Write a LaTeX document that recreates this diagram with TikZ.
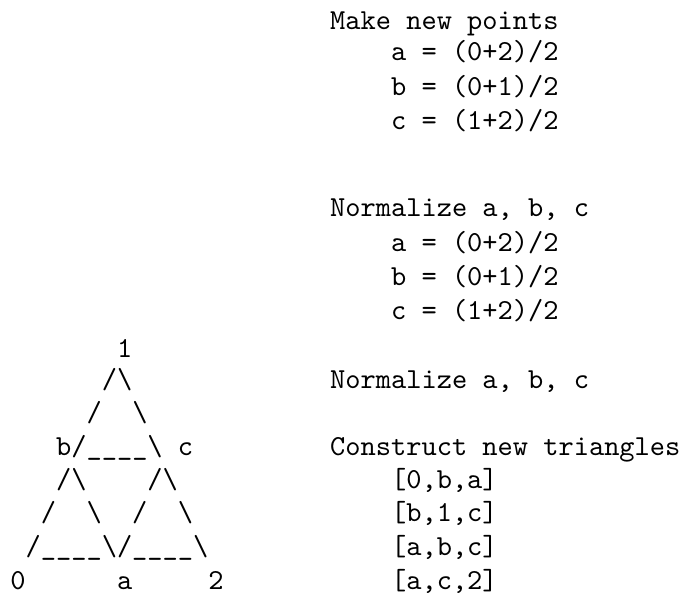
\documentclass[tikz,border=0pt]{standalone}
\begin{document}
\def\bs{\textbackslash}
\def\us{\_}
\newcommand{\cw}{5.25}
\begin{tikzpicture}[x=1pt,y=1pt,
  txt/.style={anchor=base west, inner sep=0pt, outer sep=0pt, font=\ttfamily}]
\useasboundingbox (0,0) rectangle (235.5,-211.4);
% column c at x = 3.6 + 5.25*c ; baselines measured per row
% left: triangle
\node[txt] (t9)  at ({3.6+\cw*7},-123.1) {1};
\node[txt] (t10) at ({3.6+\cw*6},-134.1) {/\bs};
\node[txt] (t11) at ({3.6+\cw*5},-145.5) {/\ \ \bs};
\node[txt] (t12) at ({3.6+\cw*3},-156.9) {b/\us\us\us\us\bs\ c};
\node[txt] (t13) at ({3.6+\cw*3},-168.3) {/\bs\ \ \ \ /\bs};
\node[txt] (t14) at ({3.6+\cw*2},-179.7) {/\ \ \bs\ \ /\ \ \bs};
\node[txt] (t15) at ({3.6+\cw*1},-191.4) {/\us\us\us\us\bs/\us\us\us\us\bs};
\node[txt] (t16) at ({3.6+\cw*0},-203.1) {0\ \ \ \ \ \ a\ \ \ \ \ 2};
% right: steps
\node[txt] (r0)  at ({3.6+\cw*21},-10.0)  {Make new points};
\node[txt] (r1)  at ({3.6+\cw*25},-21.0)  {a = (0+2)/2};
\node[txt] (r2)  at ({3.6+\cw*25},-32.8)  {b = (0+1)/2};
\node[txt] (r3)  at ({3.6+\cw*25},-44.8)  {c = (1+2)/2};
\node[txt] (r5)  at ({3.6+\cw*21},-74.5)  {Normalize a, b, c};
\node[txt] (r6)  at ({3.6+\cw*25},-86.6)  {a = (0+2)/2};
\node[txt] (r7)  at ({3.6+\cw*25},-98.6)  {b = (0+1)/2};
\node[txt] (r8)  at ({3.6+\cw*25},-110.3) {c = (1+2)/2};
\node[txt] (r10) at ({3.6+\cw*21},-134.1) {Normalize a, b, c};
\node[txt] (r12) at ({3.6+\cw*21},-156.9) {Construct new triangles};
\node[txt] (r13) at ({3.6+\cw*25},-168.3) {[0,b,a]};
\node[txt] (r14) at ({3.6+\cw*25},-179.7) {[b,1,c]};
\node[txt] (r15) at ({3.6+\cw*25},-191.4) {[a,b,c]};
\node[txt] (r16) at ({3.6+\cw*25},-203.1) {[a,c,2]};
\end{tikzpicture}
\end{document}
